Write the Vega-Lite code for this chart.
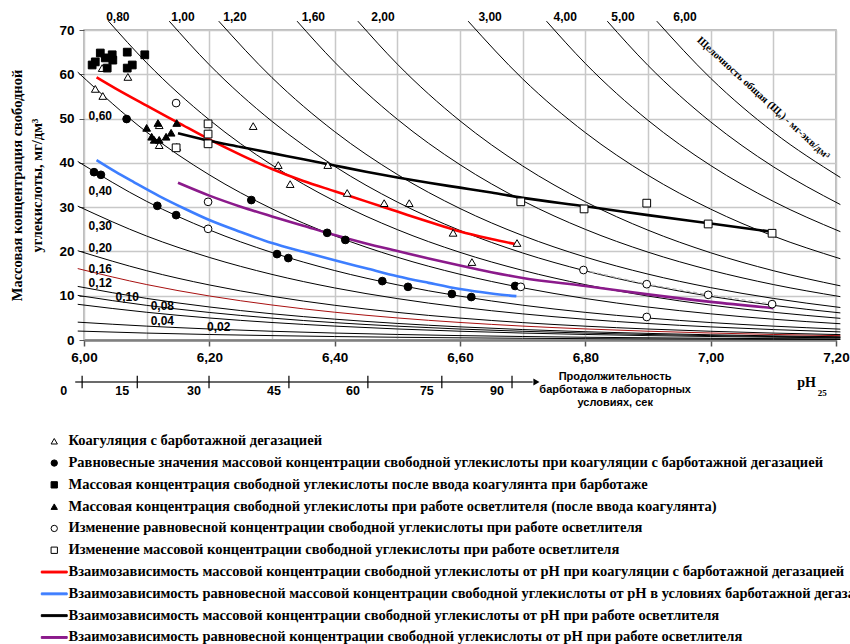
{
  "$schema": "https://vega.github.io/schema/vega-lite/v6.json",
  "width": 752,
  "height": 310,
  "autosize": {"type": "none"},
  "padding": {"left": 84, "top": 30, "right": 14, "bottom": 304},
  "config": {
    "view": {"stroke": "#a6a6a6", "strokeWidth": 1.5},
    "axis": {"labelFont": "Liberation Sans", "labelFontWeight": "bold", "labelFontSize": 13.5, "labelColor": "#000000"},
    "legend": {
      "padding": 0,
      "labelFont": "Liberation Serif",
      "labelFontWeight": "bold",
      "labelFontSize": 14.5,
      "labelColor": "#000000",
      "labelLimit": 2000,
      "symbolSize": 40,
      "symbolStrokeWidth": 1,
      "rowPadding": 6.8,
      "labelOffset": 7
    }
  },
  "datasets": {
    "names": [
      {"k": "s1", "s": "Коагуляция с барботажной дегазацией"},
      {"k": "s2", "s": "Равновесные значения массовой концентрации свободной углекислоты при коагуляции с барботажной дегазацией"},
      {"k": "s3", "s": "Массовая концентрация свободной углекислоты после ввода коагулянта при барботаже"},
      {"k": "s4", "s": "Массовая концентрация свободной углекислоты при работе осветлителя (после ввода коагулянта)"},
      {"k": "s5", "s": "Изменение равновесной концентрации свободной углекислоты при работе осветлителя"},
      {"k": "s6", "s": "Изменение массовой концентрации свободной углекислоты при работе осветлителя"},
      {"k": "s7", "s": "Взаимозависимость массовой концентрации свободной углекислоты от рН при коагуляции с барботажной дегазацией"},
      {"k": "s8", "s": "Взаимозависимость равновесной массовой концентрации свободной углекислоты от рН в условиях барботажной дегазации"},
      {"k": "s9", "s": "Взаимозависимость массовой концентрации свободной углекислоты от рН при работе осветлителя"},
      {"k": "s10", "s": "Взаимозависимость равновесной концентрации свободной углекислоты от рН при работе осветлителя"}
    ],
    "curves": [
      {"ph": 5.99, "a002": 2.02, "a004": 4.03, "a008": 8.06, "a010": 10.08, "a012": 12.10, "a016": 16.13, "a020": 20.16, "a030": 30.24, "a040": 40.32, "a060": 60.48},
      {"ph": 6.039, "a080": 72},
      {"ph": 6.1, "a002": 1.56, "a004": 3.13, "a008": 6.26, "a010": 7.82, "a012": 9.39, "a016": 12.52, "a020": 15.65, "a030": 23.47, "a040": 31.30, "a060": 46.94, "a080": 62.59},
      {"ph": 6.136, "a100": 72},
      {"ph": 6.2, "a002": 1.24, "a004": 2.49, "a008": 4.97, "a010": 6.22, "a012": 7.46, "a016": 9.94, "a020": 12.43, "a030": 18.65, "a040": 24.86, "a060": 37.29, "a080": 49.72, "a100": 62.15},
      {"ph": 6.215, "a120": 72},
      {"ph": 6.3, "a002": 0.99, "a004": 1.97, "a008": 3.95, "a010": 4.94, "a012": 5.92, "a016": 7.90, "a020": 9.87, "a030": 14.81, "a040": 19.75, "a060": 29.62, "a080": 39.50, "a100": 49.37, "a120": 59.24},
      {"ph": 6.34, "a160": 72},
      {"ph": 6.4, "a002": 0.78, "a004": 1.57, "a008": 3.14, "a010": 3.92, "a012": 4.71, "a016": 6.27, "a020": 7.84, "a030": 11.76, "a040": 15.68, "a060": 23.53, "a080": 31.37, "a100": 39.21, "a120": 47.05, "a160": 62.74},
      {"ph": 6.437, "a200": 72},
      {"ph": 6.5, "a002": 0.62, "a004": 1.25, "a008": 2.49, "a010": 3.12, "a012": 3.74, "a016": 4.98, "a020": 6.23, "a030": 9.35, "a040": 12.46, "a060": 18.69, "a080": 24.92, "a100": 31.15, "a120": 37.38, "a160": 49.84, "a200": 62.30},
      {"ph": 6.6, "a002": 0.49, "a004": 0.99, "a008": 1.98, "a010": 2.47, "a012": 2.97, "a016": 3.96, "a020": 4.95, "a030": 7.42, "a040": 9.90, "a060": 14.84, "a080": 19.79, "a100": 24.74, "a120": 29.69, "a160": 39.58, "a200": 49.48},
      {"ph": 6.613, "a300": 72},
      {"ph": 6.7, "a002": 0.39, "a004": 0.79, "a008": 1.57, "a010": 1.97, "a012": 2.36, "a016": 3.14, "a020": 3.93, "a030": 5.90, "a040": 7.86, "a060": 11.79, "a080": 15.72, "a100": 19.65, "a120": 23.58, "a160": 31.44, "a200": 39.30, "a300": 58.95},
      {"ph": 6.738, "a400": 72},
      {"ph": 6.8, "a002": 0.31, "a004": 0.62, "a008": 1.25, "a010": 1.56, "a012": 1.87, "a016": 2.50, "a020": 3.12, "a030": 4.68, "a040": 6.24, "a060": 9.37, "a080": 12.49, "a100": 15.61, "a120": 18.73, "a160": 24.98, "a200": 31.22, "a300": 46.83, "a400": 62.44},
      {"ph": 6.835, "a500": 72},
      {"ph": 6.9, "a002": 0.25, "a004": 0.50, "a008": 0.99, "a010": 1.24, "a012": 1.49, "a016": 1.98, "a020": 2.48, "a030": 3.72, "a040": 4.96, "a060": 7.44, "a080": 9.92, "a100": 12.40, "a120": 14.88, "a160": 19.84, "a200": 24.80, "a300": 37.20, "a400": 49.60, "a500": 62.00},
      {"ph": 6.914, "a600": 72},
      {"ph": 7.0, "a002": 0.20, "a004": 0.39, "a008": 0.79, "a010": 0.99, "a012": 1.18, "a016": 1.58, "a020": 1.97, "a030": 2.96, "a040": 3.94, "a060": 5.91, "a080": 7.88, "a100": 9.85, "a120": 11.82, "a160": 15.76, "a200": 19.70, "a300": 29.55, "a400": 39.40, "a500": 49.25, "a600": 59.10},
      {"ph": 7.1, "a002": 0.16, "a004": 0.31, "a008": 0.63, "a010": 0.78, "a012": 0.94, "a016": 1.25, "a020": 1.56, "a030": 2.35, "a040": 3.13, "a060": 4.69, "a080": 6.26, "a100": 7.82, "a120": 9.39, "a160": 12.52, "a200": 15.65, "a300": 23.47, "a400": 31.30, "a500": 39.12, "a600": 46.94},
      {"ph": 7.207, "a002": 0.12, "a004": 0.24, "a008": 0.49, "a010": 0.61, "a012": 0.73, "a016": 0.98, "a020": 1.22, "a030": 1.83, "a040": 2.45, "a060": 3.67, "a080": 4.89, "a100": 6.12, "a120": 7.34, "a160": 9.79, "a200": 12.23, "a300": 18.35, "a400": 24.46, "a500": 30.58, "a600": 36.70}
    ],
    "fits": [
      {"k": "s7", "ph": 6.02, "c": 59.3}, {"k": "s7", "ph": 6.05, "c": 56.8}, {"k": "s7", "ph": 6.10, "c": 52.9},
      {"k": "s7", "ph": 6.15, "c": 49.1}, {"k": "s7", "ph": 6.20, "c": 45.3}, {"k": "s7", "ph": 6.25, "c": 41.8},
      {"k": "s7", "ph": 6.30, "c": 38.6}, {"k": "s7", "ph": 6.35, "c": 35.9}, {"k": "s7", "ph": 6.40, "c": 33.6},
      {"k": "s7", "ph": 6.45, "c": 31.3}, {"k": "s7", "ph": 6.50, "c": 29.0}, {"k": "s7", "ph": 6.55, "c": 26.7},
      {"k": "s7", "ph": 6.60, "c": 24.5}, {"k": "s7", "ph": 6.65, "c": 22.8}, {"k": "s7", "ph": 6.69, "c": 21.6},
      {"k": "s8", "ph": 6.02, "c": 40.6}, {"k": "s8", "ph": 6.05, "c": 38.0}, {"k": "s8", "ph": 6.08, "c": 35.6},
      {"k": "s8", "ph": 6.12, "c": 32.5}, {"k": "s8", "ph": 6.16, "c": 29.7}, {"k": "s8", "ph": 6.20, "c": 27.1},
      {"k": "s8", "ph": 6.25, "c": 24.4}, {"k": "s8", "ph": 6.30, "c": 21.9}, {"k": "s8", "ph": 6.35, "c": 19.9},
      {"k": "s8", "ph": 6.40, "c": 18.0}, {"k": "s8", "ph": 6.45, "c": 16.2}, {"k": "s8", "ph": 6.50, "c": 14.4},
      {"k": "s8", "ph": 6.55, "c": 12.9}, {"k": "s8", "ph": 6.60, "c": 11.5}, {"k": "s8", "ph": 6.65, "c": 10.5},
      {"k": "s8", "ph": 6.69, "c": 9.9},
      {"k": "s9", "ph": 6.15, "c": 46.7}, {"k": "s9", "ph": 6.20, "c": 45.0}, {"k": "s9", "ph": 6.25, "c": 43.6},
      {"k": "s9", "ph": 6.30, "c": 42.2}, {"k": "s9", "ph": 6.35, "c": 40.8}, {"k": "s9", "ph": 6.40, "c": 39.4},
      {"k": "s9", "ph": 6.45, "c": 38.0}, {"k": "s9", "ph": 6.50, "c": 36.7}, {"k": "s9", "ph": 6.55, "c": 35.5},
      {"k": "s9", "ph": 6.60, "c": 34.4}, {"k": "s9", "ph": 6.65, "c": 33.3}, {"k": "s9", "ph": 6.70, "c": 32.1},
      {"k": "s9", "ph": 6.80, "c": 30.2}, {"k": "s9", "ph": 6.90, "c": 28.2}, {"k": "s9", "ph": 7.00, "c": 26.3},
      {"k": "s9", "ph": 7.10, "c": 24.4},
      {"k": "s10", "ph": 6.15, "c": 35.5}, {"k": "s10", "ph": 6.20, "c": 32.6}, {"k": "s10", "ph": 6.25, "c": 30.1},
      {"k": "s10", "ph": 6.30, "c": 27.9}, {"k": "s10", "ph": 6.35, "c": 25.8}, {"k": "s10", "ph": 6.40, "c": 23.7},
      {"k": "s10", "ph": 6.45, "c": 21.8}, {"k": "s10", "ph": 6.50, "c": 20.1}, {"k": "s10", "ph": 6.55, "c": 18.4},
      {"k": "s10", "ph": 6.60, "c": 16.8}, {"k": "s10", "ph": 6.65, "c": 15.3}, {"k": "s10", "ph": 6.70, "c": 14.0},
      {"k": "s10", "ph": 6.80, "c": 12.2}, {"k": "s10", "ph": 6.90, "c": 10.3}, {"k": "s10", "ph": 7.00, "c": 8.6},
      {"k": "s10", "ph": 7.10, "c": 7.2}
    ],
    "pts": [
      {"k": "s1", "ph": 6.029, "c": 61.4}, {"k": "s1", "ph": 6.070, "c": 59.4}, {"k": "s1", "ph": 6.018, "c": 56.7},
      {"k": "s1", "ph": 6.030, "c": 55.1}, {"k": "s1", "ph": 6.120, "c": 48.5}, {"k": "s1", "ph": 6.120, "c": 44.0},
      {"k": "s1", "ph": 6.148, "c": 43.6}, {"k": "s1", "ph": 6.270, "c": 48.3}, {"k": "s1", "ph": 6.310, "c": 39.5},
      {"k": "s1", "ph": 6.329, "c": 35.2}, {"k": "s1", "ph": 6.389, "c": 39.5}, {"k": "s1", "ph": 6.420, "c": 33.2},
      {"k": "s1", "ph": 6.479, "c": 30.9}, {"k": "s1", "ph": 6.519, "c": 30.9}, {"k": "s1", "ph": 6.589, "c": 24.2},
      {"k": "s1", "ph": 6.619, "c": 17.6}, {"k": "s1", "ph": 6.691, "c": 21.9},
      {"k": "s2", "ph": 6.068, "c": 49.9}, {"k": "s2", "ph": 6.016, "c": 37.9}, {"k": "s2", "ph": 6.027, "c": 37.3},
      {"k": "s2", "ph": 6.117, "c": 30.3}, {"k": "s2", "ph": 6.147, "c": 28.2}, {"k": "s2", "ph": 6.267, "c": 31.6},
      {"k": "s2", "ph": 6.308, "c": 19.4}, {"k": "s2", "ph": 6.326, "c": 18.5}, {"k": "s2", "ph": 6.388, "c": 24.2},
      {"k": "s2", "ph": 6.417, "c": 22.6}, {"k": "s2", "ph": 6.476, "c": 13.3}, {"k": "s2", "ph": 6.517, "c": 12.0},
      {"k": "s2", "ph": 6.587, "c": 10.4}, {"k": "s2", "ph": 6.618, "c": 9.7}, {"k": "s2", "ph": 6.688, "c": 12.2},
      {"k": "s3", "ph": 6.018, "c": 62.8}, {"k": "s3", "ph": 6.026, "c": 64.8}, {"k": "s3", "ph": 6.034, "c": 63.7},
      {"k": "s3", "ph": 6.045, "c": 64.4}, {"k": "s3", "ph": 6.046, "c": 63.2}, {"k": "s3", "ph": 6.037, "c": 61.4},
      {"k": "s3", "ph": 6.069, "c": 65.0}, {"k": "s3", "ph": 6.077, "c": 62.1}, {"k": "s3", "ph": 6.069, "c": 61.4},
      {"k": "s3", "ph": 6.097, "c": 64.4}, {"k": "s3", "ph": 6.013, "c": 62.1},
      {"k": "s4", "ph": 6.100, "c": 47.9}, {"k": "s4", "ph": 6.108, "c": 45.9}, {"k": "s4", "ph": 6.112, "c": 45.2},
      {"k": "s4", "ph": 6.118, "c": 49.0}, {"k": "s4", "ph": 6.120, "c": 45.2}, {"k": "s4", "ph": 6.131, "c": 45.9},
      {"k": "s4", "ph": 6.139, "c": 46.8}, {"k": "s4", "ph": 6.148, "c": 49.0},
      {"k": "s5", "ph": 6.147, "c": 53.5}, {"k": "s5", "ph": 6.198, "c": 31.2}, {"k": "s5", "ph": 6.198, "c": 25.1},
      {"k": "s5", "ph": 6.697, "c": 12.0}, {"k": "s5", "ph": 6.797, "c": 15.8}, {"k": "s5", "ph": 6.898, "c": 12.6},
      {"k": "s5", "ph": 6.996, "c": 10.2}, {"k": "s5", "ph": 7.098, "c": 8.1}, {"k": "s5", "ph": 6.898, "c": 5.2},
      {"k": "s6", "ph": 6.198, "c": 48.8}, {"k": "s6", "ph": 6.198, "c": 46.5}, {"k": "s6", "ph": 6.198, "c": 44.3},
      {"k": "s6", "ph": 6.147, "c": 43.4}, {"k": "s6", "ph": 6.697, "c": 31.2}, {"k": "s6", "ph": 6.798, "c": 29.6},
      {"k": "s6", "ph": 6.898, "c": 30.9}, {"k": "s6", "ph": 6.996, "c": 26.2}, {"k": "s6", "ph": 7.098, "c": 24.1}
    ],
    "labels": [
      {"t": "0,80", "ph": 6.054, "c": 72.9}, {"t": "1,00", "ph": 6.158, "c": 72.9}, {"t": "1,20", "ph": 6.241, "c": 72.9},
      {"t": "1,60", "ph": 6.366, "c": 72.9}, {"t": "2,00", "ph": 6.477, "c": 72.9}, {"t": "3,00", "ph": 6.648, "c": 72.9},
      {"t": "4,00", "ph": 6.768, "c": 72.9}, {"t": "5,00", "ph": 6.860, "c": 72.9}, {"t": "6,00", "ph": 6.959, "c": 72.9},
      {"t": "0,60", "ph": 6.026, "c": 50.6}, {"t": "0,40", "ph": 6.026, "c": 33.6}, {"t": "0,30", "ph": 6.026, "c": 25.7},
      {"t": "0,20", "ph": 6.026, "c": 20.8}, {"t": "0,16", "ph": 6.026, "c": 16.0}, {"t": "0,12", "ph": 6.026, "c": 12.9},
      {"t": "0,10", "ph": 6.069, "c": 9.8}, {"t": "0,08", "ph": 6.125, "c": 7.7}, {"t": "0,04", "ph": 6.125, "c": 4.3},
      {"t": "0,02", "ph": 6.215, "c": 2.9}
    ],
    "sec": [
      {"t": "0", "ph": 5.997}, {"t": "15", "ph": 6.085}, {"t": "30", "ph": 6.1995}, {"t": "45", "ph": 6.327},
      {"t": "60", "ph": 6.453}, {"t": "75", "ph": 6.571}, {"t": "90", "ph": 6.683}
    ]
  },
  "layer": [
    {
      "data": {"name": "curves"},
      "transform": [
        {"fold": ["a002", "a004", "a008", "a010", "a012", "a016", "a020", "a030", "a040", "a060", "a080", "a100", "a120", "a160", "a200", "a300", "a400", "a500", "a600"], "as": ["a", "c"]},
        {"filter": "isValid(datum.c)"}
      ],
      "mark": {"type": "line", "interpolate": "monotone", "strokeWidth": 1},
      "encoding": {
        "x": {
          "field": "ph", "type": "quantitative",
          "scale": {"domain": [6, 7.2], "nice": false, "zero": false},
          "axis": {
            "title": null,
            "values": [6, 6.1, 6.2, 6.3, 6.4, 6.5, 6.6, 6.7, 6.8, 6.9, 7, 7.1, 7.2],
            "grid": true, "gridColor": "#c8c8c8", "gridWidth": 1.5,
            "domainColor": "#7f7f7f", "domainWidth": 2.5,
            "tickColor": "#555555", "tickWidth": 1.5, "tickSize": 6,
            "tickOpacity": {"condition": {"test": "round(datum.value * 10) % 2 != 0", "value": 0}, "value": 1},
            "labelExpr": "round(datum.value * 10) % 2 == 0 ? replace(format(datum.value, '.2f'), '.', ',') : ''",
            "labelPadding": 4, "labelFlush": false, "labelOverlap": false
          }
        },
        "y": {
          "field": "c", "type": "quantitative",
          "scale": {"domain": [0, 70], "nice": false},
          "axis": {
            "title": ["Массовая концентрация свободной", "углекислоты, мг/дм³"],
            "titleFont": "Liberation Serif", "titleFontSize": 14.5, "titleFontWeight": "bold", "titleColor": "#000000",
            "titleLineHeight": 20, "titleAngle": -90, "titleX": -67, "titleY": 155, "titleAlign": "center", "titleBaseline": "middle",
            "values": [0, 10, 20, 30, 40, 50, 60, 70],
            "grid": true, "gridColor": "#c8c8c8", "gridWidth": 1.5,
            "domain": false, "tickColor": "#555555", "tickSize": 5, "labelPadding": 5,
            "labelFlush": false, "labelOverlap": false
          }
        },
        "detail": {"field": "a"},
        "stroke": {"condition": {"test": "datum.a == 'a016'", "value": "#a81010"}, "value": "#000000"}
      }
    },
    {
      "data": {"name": "pts"},
      "transform": [{"filter": "datum.k == 's5' && datum.ph > 6.75 && datum.c > 6"}],
      "mark": {"type": "line", "stroke": "#b4b4b4", "strokeWidth": 1.3, "strokeDash": [4, 3]},
      "encoding": {
        "x": {"field": "ph", "type": "quantitative"},
        "y": {"field": "c", "type": "quantitative"}
      }
    },
    {
      "data": {"name": "fits"},
      "transform": [{"lookup": "k", "from": {"data": {"name": "names"}, "key": "k", "fields": ["s"]}}],
      "mark": {"type": "line", "interpolate": "monotone", "strokeWidth": 2.6},
      "encoding": {
        "x": {"field": "ph", "type": "quantitative"},
        "y": {"field": "c", "type": "quantitative"},
        "stroke": {"field": "s", "type": "nominal", "title": null,
          "legend": {"orient": "none", "legendX": -37, "legendY": 404, "direction": "vertical", "labelFontWeight": "bold"}}
      }
    },
    {
      "data": {"name": "pts"},
      "transform": [{"lookup": "k", "from": {"data": {"name": "names"}, "key": "k", "fields": ["s"]}}],
      "mark": {"type": "point", "size": 60, "strokeWidth": 1, "opacity": 1, "fillOpacity": 1},
      "encoding": {
        "x": {"field": "ph", "type": "quantitative"},
        "y": {"field": "c", "type": "quantitative"},
        "shape": {
          "field": "s", "type": "nominal", "title": null,
          "scale": {
            "domain": [
              "Коагуляция с барботажной дегазацией",
              "Равновесные значения массовой концентрации свободной углекислоты при коагуляции с барботажной дегазацией",
              "Массовая концентрация свободной углекислоты после ввода коагулянта при барботаже",
              "Массовая концентрация свободной углекислоты при работе осветлителя (после ввода коагулянта)",
              "Изменение равновесной концентрации свободной углекислоты при работе осветлителя",
              "Изменение массовой концентрации свободной углекислоты при работе осветлителя",
              "Взаимозависимость массовой концентрации свободной углекислоты от рН при коагуляции с барботажной дегазацией",
              "Взаимозависимость равновесной массовой концентрации свободной углекислоты от рН в условиях барботажной дегазации",
              "Взаимозависимость массовой концентрации свободной углекислоты от рН при работе осветлителя",
              "Взаимозависимость равновесной концентрации свободной углекислоты от рН при работе осветлителя"
            ],
            "range": ["triangle-up", "circle", "square", "triangle-up", "circle", "square",
              "M-4.1,-0.3H4.1V0.3H-4.1Z", "M-4.1,-0.3H4.1V0.3H-4.1Z", "M-4.1,-0.3H4.1V0.3H-4.1Z", "M-4.1,-0.3H4.1V0.3H-4.1Z"]
          },
          "legend": {"orient": "none", "legendX": -37, "legendY": 404, "direction": "vertical", "labelFontWeight": "bold"}
        },
        "fill": {
          "field": "s", "type": "nominal", "title": null,
          "scale": {
            "domain": [
              "Коагуляция с барботажной дегазацией",
              "Равновесные значения массовой концентрации свободной углекислоты при коагуляции с барботажной дегазацией",
              "Массовая концентрация свободной углекислоты после ввода коагулянта при барботаже",
              "Массовая концентрация свободной углекислоты при работе осветлителя (после ввода коагулянта)",
              "Изменение равновесной концентрации свободной углекислоты при работе осветлителя",
              "Изменение массовой концентрации свободной углекислоты при работе осветлителя",
              "Взаимозависимость массовой концентрации свободной углекислоты от рН при коагуляции с барботажной дегазацией",
              "Взаимозависимость равновесной массовой концентрации свободной углекислоты от рН в условиях барботажной дегазации",
              "Взаимозависимость массовой концентрации свободной углекислоты от рН при работе осветлителя",
              "Взаимозависимость равновесной концентрации свободной углекислоты от рН при работе осветлителя"
            ],
            "range": ["#ffffff", "#000000", "#000000", "#000000", "#ffffff", "#ffffff", "#ff0000", "#3d7eff", "#000000", "#8b1a8b"]
          },
          "legend": {"orient": "none", "legendX": -37, "legendY": 404, "direction": "vertical", "labelFontWeight": "bold"}
        },
        "stroke": {
          "field": "s", "type": "nominal", "title": null,
          "scale": {
            "domain": [
              "Коагуляция с барботажной дегазацией",
              "Равновесные значения массовой концентрации свободной углекислоты при коагуляции с барботажной дегазацией",
              "Массовая концентрация свободной углекислоты после ввода коагулянта при барботаже",
              "Массовая концентрация свободной углекислоты при работе осветлителя (после ввода коагулянта)",
              "Изменение равновесной концентрации свободной углекислоты при работе осветлителя",
              "Изменение массовой концентрации свободной углекислоты при работе осветлителя",
              "Взаимозависимость массовой концентрации свободной углекислоты от рН при коагуляции с барботажной дегазацией",
              "Взаимозависимость равновесной массовой концентрации свободной углекислоты от рН в условиях барботажной дегазации",
              "Взаимозависимость массовой концентрации свободной углекислоты от рН при работе осветлителя",
              "Взаимозависимость равновесной концентрации свободной углекислоты от рН при работе осветлителя"
            ],
            "range": ["#000000", "#000000", "#000000", "#000000", "#000000", "#000000", "#ff0000", "#3d7eff", "#000000", "#8b1a8b"]
          },
          "legend": {"orient": "none", "legendX": -37, "legendY": 404, "direction": "vertical", "labelFontWeight": "bold"}
        }
      }
    },
    {
      "data": {"name": "labels"},
      "mark": {"type": "text", "font": "Liberation Sans", "fontWeight": "bold", "fontSize": 12, "align": "center", "baseline": "middle", "color": "#000000"},
      "encoding": {
        "x": {"field": "ph", "type": "quantitative"},
        "y": {"field": "c", "type": "quantitative"},
        "text": {"field": "t"}
      }
    },
    {
      "data": {"values": [{"t": "Щелочность общая (Щₒ) - мг-экв/дм³", "ph": 7.084, "c": 54.6}]},
      "mark": {"type": "text", "font": "Liberation Serif", "fontWeight": "bold", "fontSize": 10.5, "angle": 42.5, "align": "center", "baseline": "middle", "color": "#000000"},
      "encoding": {
        "x": {"field": "ph", "type": "quantitative"},
        "y": {"field": "c", "type": "quantitative"},
        "text": {"field": "t"}
      }
    },
    {
      "data": {"values": [{}]},
      "mark": {"type": "rule", "color": "#3a3a3a", "strokeWidth": 1.5},
      "encoding": {
        "x": {"datum": 5.986},
        "x2": {"datum": 6.716},
        "y": {"datum": -9.48}
      }
    },
    {
      "data": {"name": "sec"},
      "mark": {"type": "rule", "color": "#000000", "strokeWidth": 1.2},
      "encoding": {
        "x": {"field": "ph", "type": "quantitative"},
        "y": {"datum": -8.1},
        "y2": {"datum": -10.9}
      }
    },
    {
      "data": {"name": "sec"},
      "transform": [{"filter": "datum.t != '0'"}],
      "mark": {"type": "text", "font": "Liberation Sans", "fontWeight": "bold", "fontSize": 12.5, "align": "right", "dx": -8, "baseline": "middle", "color": "#000000"},
      "encoding": {
        "x": {"field": "ph", "type": "quantitative"},
        "y": {"datum": -11.6},
        "text": {"field": "t"}
      }
    },
    {
      "data": {"name": "sec"},
      "transform": [{"filter": "datum.t == '0'"}],
      "mark": {"type": "text", "font": "Liberation Sans", "fontWeight": "bold", "fontSize": 12.5, "align": "right", "dx": -15, "baseline": "middle", "color": "#000000"},
      "encoding": {
        "x": {"field": "ph", "type": "quantitative"},
        "y": {"datum": -11.6},
        "text": {"field": "t"}
      }
    },
    {
      "data": {"values": [{}]},
      "mark": {"type": "point", "shape": "triangle-right", "filled": true, "color": "#000000", "size": 50, "opacity": 1},
      "encoding": {
        "x": {"datum": 6.722},
        "y": {"datum": -9.48}
      }
    },
    {
      "data": {"values": [{}]},
      "mark": {"type": "text", "font": "Liberation Sans", "fontWeight": "bold", "fontSize": 11, "align": "center", "baseline": "top", "lineHeight": 13, "color": "#000000"},
      "encoding": {
        "x": {"datum": 6.8476},
        "y": {"datum": -7.1},
        "text": {"value": ["Продолжительность", "барботажа в лабораторных", "условиях, сек"]}
      }
    },
    {
      "data": {"values": [{}]},
      "mark": {"type": "text", "font": "Liberation Serif", "fontWeight": "bold", "fontSize": 14, "align": "center", "baseline": "middle", "color": "#000000"},
      "encoding": {
        "x": {"datum": 7.153},
        "y": {"datum": -9.7},
        "text": {"value": "pH"}
      }
    },
    {
      "data": {"values": [{}]},
      "mark": {"type": "text", "font": "Liberation Serif", "fontWeight": "bold", "fontSize": 9, "align": "center", "baseline": "middle", "color": "#000000"},
      "encoding": {
        "x": {"datum": 7.178},
        "y": {"datum": -12.0},
        "text": {"value": "25"}
      }
    }
  ]
}
